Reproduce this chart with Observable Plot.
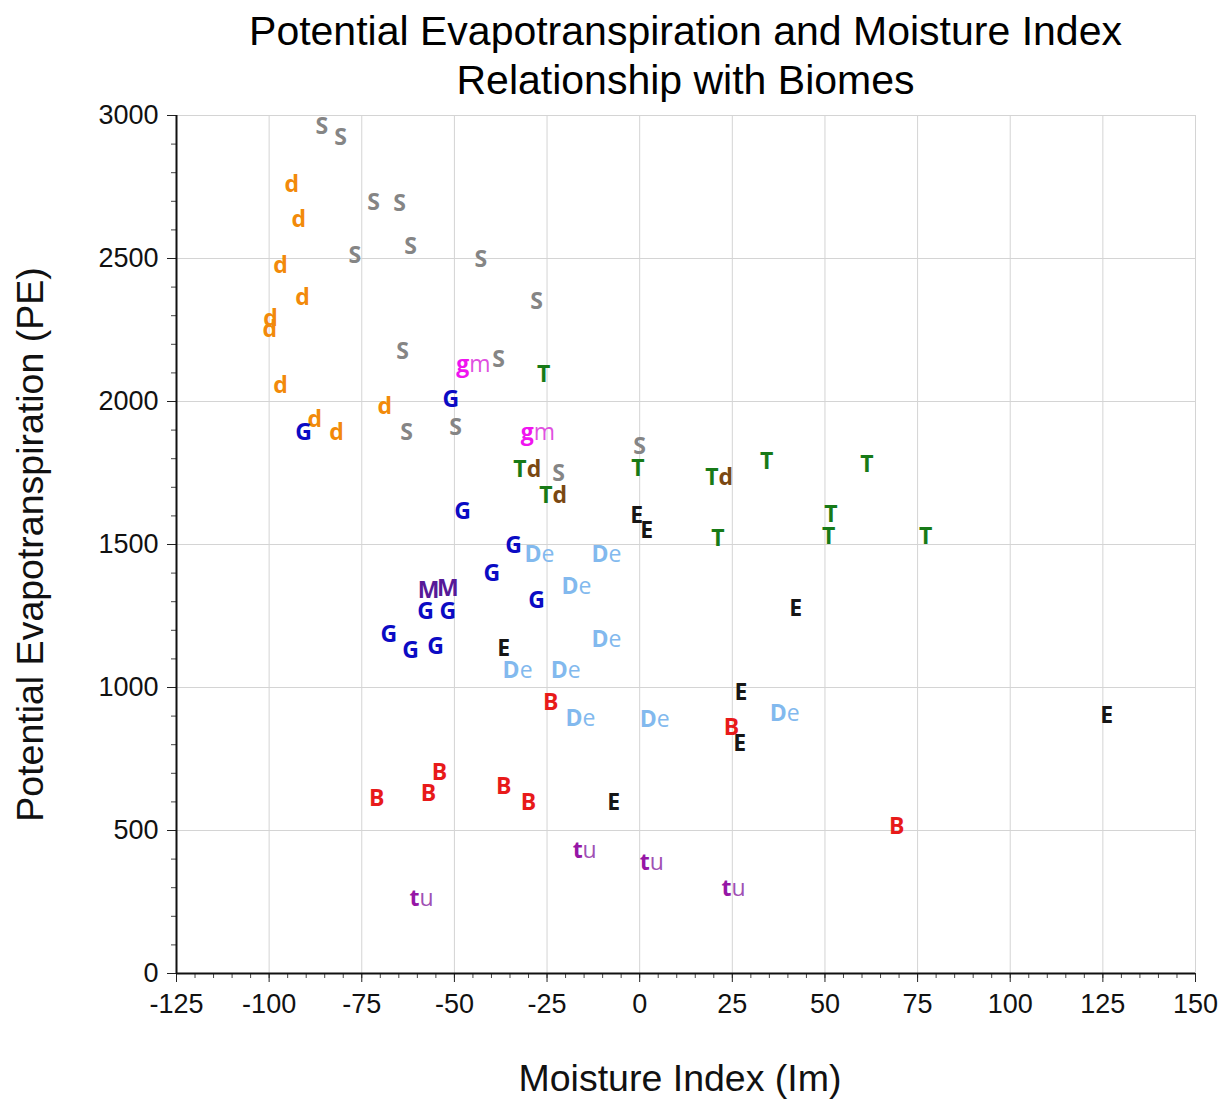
<!DOCTYPE html>
<html>
<head>
<meta charset="utf-8">
<script src="https://cdn.jsdelivr.net/npm/d3@7"></script>
<script src="https://cdn.jsdelivr.net/npm/@observablehq/plot@0.6"></script>
<style>
  html, body { margin: 0; padding: 0; background: #fff; }
  #title {
    width: 1228px; box-sizing: border-box; height: 105px;
    padding: 7px 33px 0 176px; text-align: center;
    font-family: "Liberation Sans", Arial, sans-serif; font-size: 41px; line-height: 49px; color: #000;
  }
  svg { display: block; }
</style>
</head>
<body>
<div id="title">Potential Evapotranspiration and Moisture Index<br>Relationship with Biomes</div>
<div id="chart"></div>
<script>
// Biome code of each observation
const biome = [
  "S","S","S","S","S","S","S","S","S","S","S","S","S","S",
  "d","d","d","d","d","d","d","d","d","d",
  "G","G","G","G","G","G","G","G","G","G","G",
  "gm","gm",
  "Td","Td","Td",
  "T","T","T","T","T","T","T","T",
  "E","E","E","E","E","E","E","E",
  "De","De","De","De","De","De","De","De","De",
  "M","M",
  "B","B","B","B","B","B","B","B",
  "tu","tu","tu","tu"
];
// Moisture Index (Im)
const moisture = [
  -85.8,-80.7,-71.8,-64.8,-76.9,-61.8,-42.9,-27.8,-64.0,-38.1,-62.9,-49.7,0.0,-21.9,
  -93.9,-92.0,-96.9,-91.0,-99.6,-99.8,-96.9,-87.7,-81.8,-68.8,
  -90.7,-51.0,-47.8,-34.0,-39.9,-27.8,-57.8,-51.8,-67.7,-61.8,-55.1,
  -46.0,-28.6,
  -30.5,-23.5,21.3,
  -25.9,-0.5,34.3,61.3,21.1,51.6,51.0,77.2,
  -0.8,1.9,42.1,-36.7,27.3,27.0,-7.0,126.0,
  -26.5,-8.4,-16.5,-8.4,-32.4,-19.4,-15.4,4.6,39.7,
  -57.0,-51.8,
  -24.0,-71.0,-57.0,-54.0,-36.7,-30.0,24.8,69.4,
  -15.4,2.7,24.8,-59.4
];
// Potential Evapotranspiration (PE)
const pe = [
  2962,2923,2696,2692,2510,2542,2497,2350,2175,2147,1892,1909,1843,1748,
  2759,2636,2476,2364,2290,2250,2056,1937,1892,1983,
  1892,2007,1615,1497,1399,1304,1266,1266,1185,1129,1143,
  2129,1892,
  1762,1671,1734,
  2094,1766,1790,1780,1521,1605,1528,1528,
  1601,1549,1276,1136,983,804,598,902,
  1465,1465,1353,1168,1059,1059,892,888,909,
  1339,1346,
  948,612,629,703,654,598,860,514,
  430,388,297,262
];
const biomeCodes   = ["S","d","G","gm","T","Td","E","De","M","B","tu"];
const mainColors   = ["#858585","#f28a0a","#0b0bc4","#f014f0","#177a17","#177a17","#161616","#82b9ee","#561a98","#e81a1a","#9616a6"];
const suffixColors = ["","","","#e050e0","","#7a4812","","#82b9ee","","","#a050b4"];
const xTicks = [-125,-100,-75,-50,-25,0,25,50,75,100,125,150];
const yTicks = [0,500,1000,1500,2000,2500,3000];

const rows = biome.map((b, i) => {
  const k = biomeCodes.indexOf(b);
  return {b, x: moisture[i], y: pe[i], main: b[0], suffix: b.slice(1), c1: mainColors[k], c2: suffixColors[k]};
});
const single = rows.filter(d => d.suffix === "");
const double = rows.filter(d => d.suffix !== "");
const suffixBold = double.filter(d => d.b === "Td");
const suffixLight = double.filter(d => d.b !== "Td");

const font = "'Liberation Sans', Arial, sans-serif";
const lf = "'Open Sans', Lato, sans-serif";
const fs = 23;
const xMinor = d3.range(-125, 151, 5);
const yMinor = d3.range(0, 3001, 100);

const chart = Plot.plot({
  width: 1228,
  height: 995,
  marginTop: 10,
  marginLeft: 176,
  marginRight: 33,
  marginBottom: 127,
  style: {fontFamily: font, background: "#fff", overflow: "visible"},
  x: {domain: [-125, 150]},
  y: {domain: [0, 3000]},
  color: {type: "identity"},
  marks: [
    Plot.gridX(xTicks, {stroke: "#d4d4d4", strokeOpacity: 1, strokeWidth: 1}),
    Plot.gridY(yTicks, {stroke: "#d4d4d4", strokeOpacity: 1, strokeWidth: 1}),
    Plot.axisX(xMinor, {tickSize: 5, tickFormat: () => "", label: null, stroke: "#444"}),
    Plot.axisY(yMinor, {tickSize: 5, tickFormat: () => "", label: null, stroke: "#444"}),
    Plot.axisX(xTicks, {tickSize: 9, tickPadding: 11, fontSize: 27, tickFormat: d => String(d), label: null, stroke: "#222", fill: "#111"}),
    Plot.axisY(yTicks, {tickSize: 9, tickPadding: 9, fontSize: 27, tickFormat: d => String(d), label: null, stroke: "#222", fill: "#111"}),
    Plot.ruleX([-125], {stroke: "#111", strokeWidth: 2}),
    Plot.ruleY([0], {stroke: "#111", strokeWidth: 2}),
    Plot.text(single, {x: "x", y: "y", text: "main", fill: "c1", fontWeight: 700, fontSize: fs, fontFamily: lf}),
    Plot.text(double, {x: "x", y: "y", text: "main", fill: "c1", textAnchor: "end", fontWeight: 700, fontSize: fs, fontFamily: lf}),
    Plot.text(suffixBold, {x: "x", y: "y", text: "suffix", fill: "c2", textAnchor: "start", fontWeight: 700, fontSize: fs, fontFamily: lf}),
    Plot.text(suffixLight, {x: "x", y: "y", text: "suffix", fill: "c2", textAnchor: "start", fontWeight: 400, fontSize: fs, fontFamily: lf}),
    Plot.text(["Moisture Index (Im)"], {frameAnchor: "bottom", dx: -6, dy: 105, lineAnchor: "middle", textAnchor: "middle", fontSize: 37.5, fill: "#111"}),
    Plot.text(["Potential Evapotranspiration (PE)"], {frameAnchor: "left", dx: -146, rotate: -90, textAnchor: "middle", lineAnchor: "middle", fontSize: 37.5, fill: "#111"})
  ]
});
document.getElementById("chart").appendChild(chart);
</script>
</body>
</html>
